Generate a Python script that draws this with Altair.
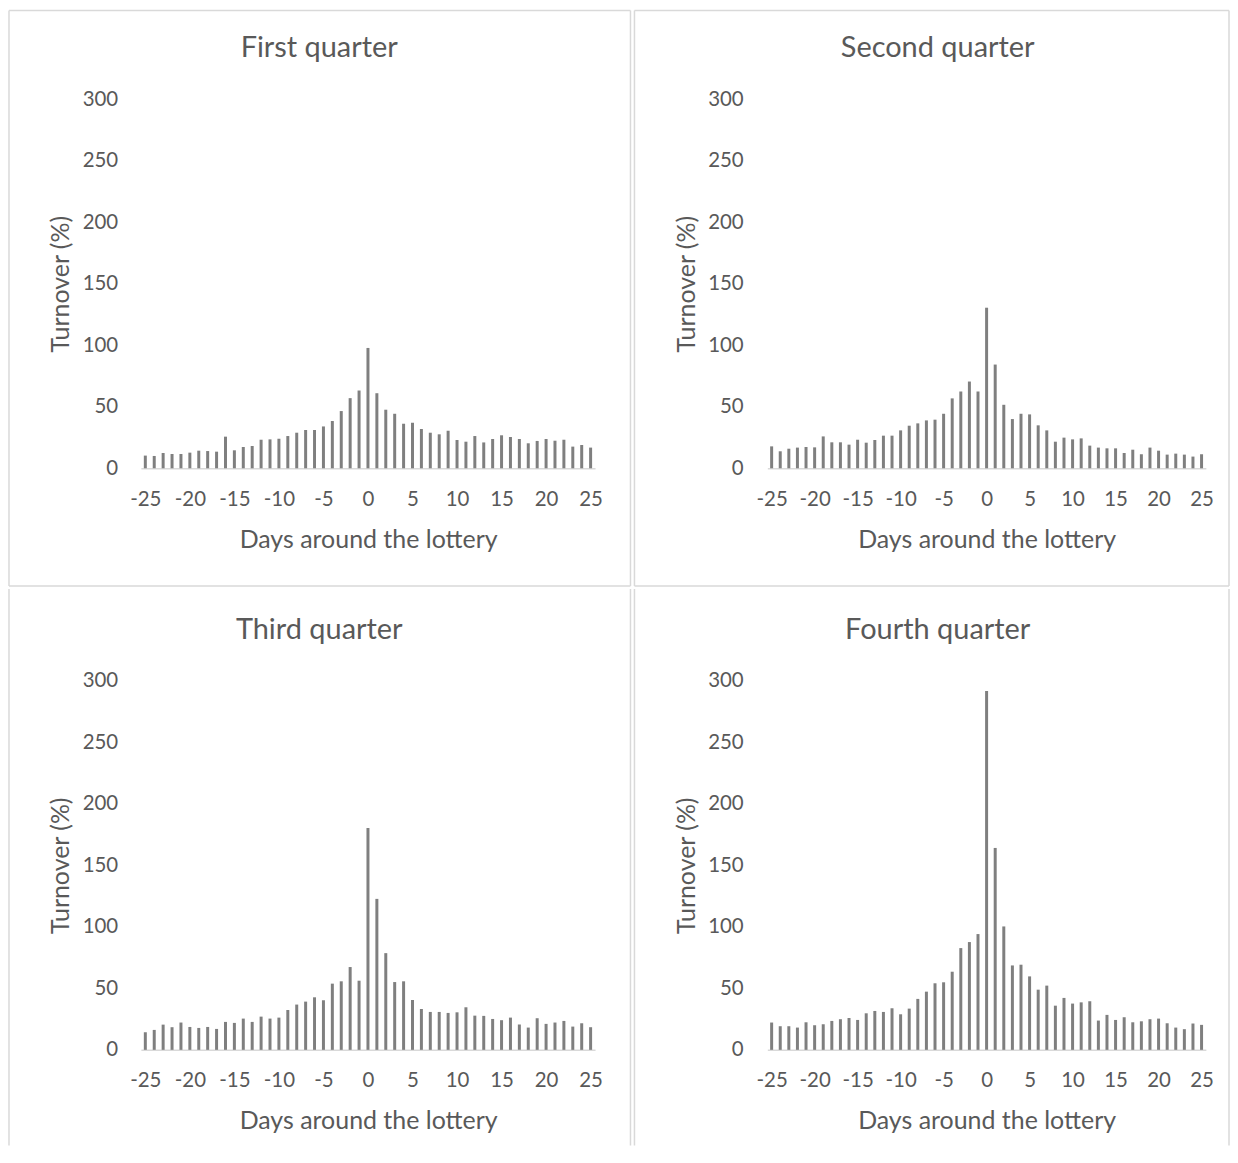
import altair as alt
import pandas as pd

days = list(range(-25, 26))
titles = ["First quarter", "Second quarter", "Third quarter", "Fourth quarter"]

q1 = [10.3, 10, 12.4, 11.6, 11.6, 12.7, 14.3, 14, 13.5, 25.7, 14.6, 17.3, 18.1, 23.2, 23.5,
      24, 26.2, 28.9, 31.1, 31.1, 34, 38.4, 46.5, 57, 63.2, 97.8,
      61, 47.6, 44.3, 36.2, 37, 31.9, 28.9, 27.6, 30.5, 23, 21.6, 26.2, 21, 23.8, 26.8,
      25.4, 23.8, 20.3, 22.2, 23.8, 22.4, 23.2, 17.6, 18.9, 16.8]
q2 = [17.8, 13.8, 15.9, 16.8, 17.3, 17, 25.9, 21.1, 21.1, 19.2, 23.2, 20.8, 23, 26.5, 26.5,
      30.8, 34.6, 36.5, 38.9, 39.5, 44.3, 56.8, 62.4, 70.5, 62.4, 130.5,
      84.3, 51.6, 40, 44.3, 43.8, 34.9, 30.8, 21.6, 24.9, 23.5, 24.3, 18.4, 16.8, 16.2, 16.2,
      12.4, 15.1, 11.4, 16.8, 14.3, 11.1, 11.9, 11.1, 9.5, 11.4]
q3 = [14.3, 16.2, 20.5, 18.4, 22.2, 18.6, 17.8, 18.6, 17, 22.7, 21.9, 25.4, 22.7, 27, 25.4,
      26.2, 32.4, 36.8, 39.2, 42.7, 40.3, 53.8, 55.7, 67.3, 56.2, 180.3,
      122.7, 78.6, 55.1, 55.7, 40.5, 33.2, 30.8, 30.8, 30, 30.5, 34.6, 27.8, 27.6, 25.1, 24.1,
      26.2, 20.5, 18.1, 25.7, 21.1, 22.2, 23.5, 18.9, 21.6, 18.4]
q4 = [22.2, 19.2, 19.2, 18.1, 22.4, 20, 20.8, 23.5, 24.9, 25.9, 24.3, 29.7, 31.6, 30.8, 33.8,
      28.9, 33.5, 41.4, 47.3, 54.1, 54.9, 63.5, 82.7, 87.6, 94.1, 291.6,
      164.1, 100.3, 68.6, 69.2, 59.7, 48.9, 52.2, 35.9, 42.2, 37.6, 38.6, 39.5, 23.8, 28.4, 24.3,
      26.5, 22.4, 23.2, 24.9, 25.4, 21.6, 18.1, 16.8, 21.4, 20.3]

y_ticks = [0, 50, 100, 150, 200, 250, 300]
x_ticks = [-25, -20, -15, -10, -5, 0, 5, 10, 15, 20, 25]
x_title = "Days around the lottery"
y_title = "Turnover (%)"

FONT = "Lato"
TXT = "#595959"
BAR = "#7f7f7f"
LINE = "#d9d9d9"

ONE = alt.Data(values=[{"k": 0}])


def rule(x, x2, y, y2):
    return alt.Chart(ONE).mark_rule(color=LINE, strokeWidth=1.5).encode(
        x=alt.value(x), x2=alt.value(x2), y=alt.value(y), y2=alt.value(y2))


def panel(title, values, width, height, xr, y0, y300, title_x, title_y,
          xtitle_x, ytitle_y, bottom_border, top_border):
    df = pd.DataFrame({"day": days, "turnover": values})
    bars = alt.Chart(df).mark_bar(size=3, color=BAR).encode(
        x=alt.X("day:Q",
                scale=alt.Scale(domain=[-25.5, 25.5], range=xr, nice=False, zero=False,
                                padding=0),
                axis=alt.Axis(values=x_ticks,
                              labelExpr="datum.value < 0 ? '-' + abs(datum.value) : '' + datum.value",
                              title=x_title, offset=y0 - height,
                              domain=True, domainColor=LINE, domainWidth=1.5,
                              ticks=False, tickSize=0, labelPadding=31,
                              labelBaseline="middle", grid=False,
                              titleX=xtitle_x, titleY=71, titleAlign="center",
                              titleBaseline="middle")),
        y=alt.Y("turnover:Q",
                scale=alt.Scale(domain=[0, 300], range=[y0, y300], nice=False, padding=0),
                axis=alt.Axis(values=y_ticks, title=y_title, offset=-109,
                              domain=False, ticks=False, tickSize=0, labelPadding=0,
                              grid=False, titleX=-57, titleY=ytitle_y, titleAngle=270,
                              titleAlign="center", titleBaseline="middle")),
    )
    ttl = alt.Chart(ONE).mark_text(font=FONT, fontSize=29, color=TXT, align="center",
                                   baseline="middle").encode(
        x=alt.value(title_x), y=alt.value(title_y), text=alt.value(title))
    layers = [bars, ttl, rule(0, 0, 0, height), rule(width, width, 0, height)]
    if top_border:
        layers.append(rule(0, width, 0, 0))
    if bottom_border:
        layers.append(rule(0, width, height, height))
    return alt.layer(*layers).properties(width=width, height=height)


WL, WR = 623, 596
HT, HB = 577, 558

p1 = panel(titles[0], q1, WL, HT, [132.2, 587.5], 459, 89, 311, 38, 360, 274, True, True)
p2 = panel(titles[1], q2, WR, HT, [133.2, 572.8], 459, 89, 304, 38, 353, 274, True, True)
p3 = panel(titles[2], q3, WL, HB, [132.2, 587.5], 462, 92, 311, 41, 360, 277, False, False)
p4 = panel(titles[3], q4, WR, HB, [133.2, 572.8], 462, 92, 304, 41, 353, 277, False, False)

chart = alt.vconcat(
    alt.hconcat(p1, p2, spacing=2),
    alt.hconcat(p3, p4, spacing=2),
    spacing=1,
).properties(padding=0).configure_view(stroke=None).configure_axis(
    labelFont=FONT, labelFontSize=20.5, labelColor=TXT,
    titleFont=FONT, titleFontSize=25, titleColor=TXT, titleFontWeight="normal",
)

chart.save("out.html", embed_options={"renderer": "svg", "actions": False})
